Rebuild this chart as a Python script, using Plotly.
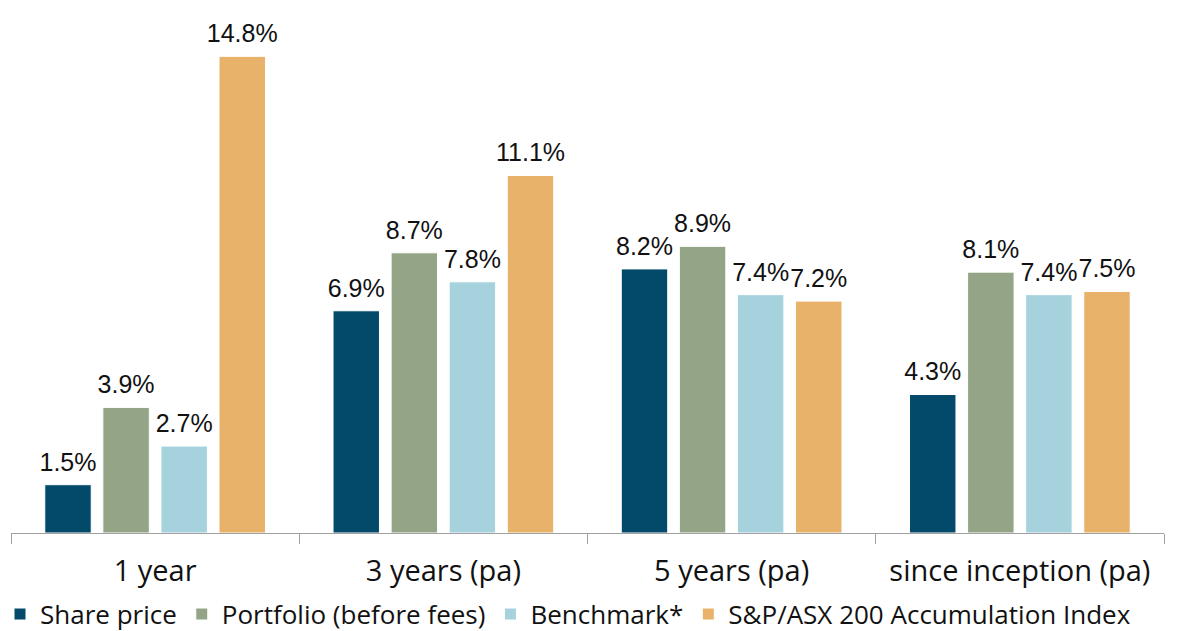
import plotly.graph_objects as go

categories = ["1 year", "3 years (pa)", "5 years (pa)", "since inception (pa)"]
series_names = ["Share price", "Portfolio (before fees)", "Benchmark*", "S&P/ASX 200 Accumulation Index"]
share_price = [1.5, 6.9, 8.2, 4.3]
portfolio = [3.9, 8.7, 8.9, 8.1]
benchmark = [2.7, 7.8, 7.4, 7.4]
asx200 = [14.8, 11.1, 7.2, 7.5]
colors = ["#034a6a", "#94a587", "#a5d2dd", "#e8b26a"]

LABEL_FONT = "Liberation Sans"
AXIS_FONT = "Open Sans"
fig = go.Figure()
all_vals = [share_price, portfolio, benchmark, asx200]
for i, (name, vals, col) in enumerate(zip(series_names, all_vals, colors)):
    fig.add_trace(go.Bar(
        x=categories, y=vals, name=name, offsetgroup=str(i),
        marker=dict(color=col, line=dict(color="white", width=1)),
    ))
for i, vals in enumerate(all_vals):
    fig.add_trace(go.Scatter(
        x=categories, y=vals, mode="markers+text", offsetgroup=str(i),
        marker=dict(size=11, opacity=0), showlegend=False, hoverinfo="skip",
        text=[f"{v:.1f}%" for v in vals], textposition="top center",
        textfont=dict(size=25, color="#111111", family=LABEL_FONT),
        cliponaxis=False,
    ))

fig.update_layout(
    width=1177, height=631,
    margin=dict(l=11, r=13, t=0, b=98),
    plot_bgcolor="white", paper_bgcolor="white",
    barmode="group", bargap=0.194, bargroupgap=0.2,
    scattermode="group", scattergap=0.194,
    font=dict(family=AXIS_FONT, size=26, color="#111111"),
    showlegend=True,
    legend=dict(orientation="h", x=-0.006, xanchor="left", xref="container",
                y=0.064, yanchor="top", yref="container",
                font=dict(size=26, family=AXIS_FONT), traceorder="normal",
                itemwidth=30, tracegroupgap=0),
    xaxis=dict(showline=True, linecolor="#a0a0a0", linewidth=1,
               ticks="outside", tickson="boundaries", ticklen=10, tickcolor="#a0a0a0",
               ticklabelstandoff=12, tickfont=dict(size=29, family=AXIS_FONT),
               automargin=False),
    yaxis=dict(range=[0, 16.55], visible=False, showgrid=False),
)

fig.write_html("out.html")
